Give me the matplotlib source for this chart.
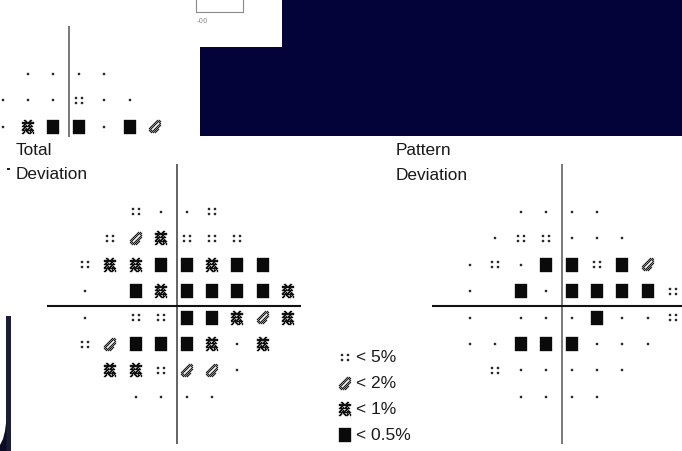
import matplotlib
matplotlib.use("Agg")
import matplotlib.pyplot as plt
from matplotlib.collections import PolyCollection
from matplotlib.patches import Polygon, Rectangle

# ---------------- data ----------------
row_deg = [21, 15, 9, 3, -3, -9, -15, -21]
col_deg = [-21, -15, -9, -3, 3, 9, 15, 21, 27]

# 0 = no point, 1 = normal, 2 = <5%, 3 = <2%, 4 = <1%, 5 = <0.5%
total_deviation = [
    [0, 0, 2, 1, 1, 2, 0, 0, 0],
    [0, 2, 3, 4, 2, 2, 2, 0, 0],
    [2, 4, 4, 5, 5, 4, 5, 5, 0],
    [1, 0, 5, 4, 5, 5, 5, 5, 4],
    [1, 0, 2, 2, 5, 5, 4, 3, 4],
    [2, 3, 5, 5, 5, 4, 1, 4, 0],
    [0, 4, 4, 2, 3, 3, 1, 0, 0],
    [0, 0, 1, 1, 1, 1, 0, 0, 0],
]
pattern_deviation = [
    [0, 0, 1, 1, 1, 1, 0, 0, 0],
    [0, 1, 2, 2, 1, 1, 1, 0, 0],
    [1, 2, 1, 5, 5, 2, 5, 3, 0],
    [1, 0, 5, 1, 5, 5, 5, 5, 2],
    [1, 0, 1, 1, 1, 5, 1, 1, 2],
    [1, 1, 5, 5, 5, 1, 1, 1, 0],
    [0, 2, 1, 1, 1, 1, 1, 0, 0],
    [0, 0, 1, 1, 1, 1, 0, 0, 0],
]
upper_rows = [21, 15, 9]
upper_field = [
    [0, 0, 1, 1, 1, 1, 0, 0, 0],
    [0, 1, 1, 1, 2, 1, 1, 0, 0],
    [1, 1, 4, 5, 5, 1, 5, 3, 0],
]
legend_codes = [2, 3, 4, 5]
legend_labels = ["< 5%", "< 2%", "< 1%", "< 0.5%"]

# ---------------- symbol bitmaps (pixel units) ----------------
BITMAPS = {
    1: ["XX", "XX"],
    2: ["XX....XX",
        "XX....XX",
        "........",
        "........",
        "........",
        "XX....XX",
        "XX....XX"],
    3: ["........X.X.",
        ".......X.X.X",
        "......X.X.X.",
        ".....X.X...X",
        "....X.X...X.",
        "...X.X...X.X",
        "..X.X...X.X.",
        ".X.X...X.X..",
        "X.X...X.X...",
        ".X...X.X.X..",
        "X.X.X.X.X...",
        ".X.X.X.X....",
        "..X.X.X....."],
    4: ["..XX....XX..",
        "...XX..XX...",
        "XXXXXXXXXXXX",
        "XXXXXXXXXXXX",
        "..XX...XX...",
        ".XX.X.XX.X..",
        "XXXXXXXXXXX.",
        "..XX...XX...",
        ".XX.X.XX.X..",
        "XX.XXXX.XXX.",
        "XXXXXXXXXXXX",
        "..X.XX..X.X.",
        ".XX..XX.XX.X",
        "XX....XXX..X"],
}
SQUARE_W, SQUARE_H = 12, 14
SYM_COLOR = {1: "#2a2a2a", 2: "#2a2a2a", 3: "#202020", 4: "#111111", 5: "#0a0a0a"}


def symbol_polys(code, cx, cy, sx, sy):
    """Polygons for one symbol centred at (cx, cy); sx, sy = pixels per data unit."""
    if code == 5:
        x0 = cx - SQUARE_W / 2 / sx
        x1 = cx + SQUARE_W / 2 / sx
        y0 = cy + SQUARE_H / 2 / sy
        y1 = cy - SQUARE_H / 2 / sy
        return [[(x0, y0), (x1, y0), (x1, y1), (x0, y1)]]
    polys = []
    bm = BITMAPS[code]
    h = len(bm)
    w = len(bm[0])
    for i, line in enumerate(bm):
        j = 0
        while j < w:
            if line[j] == "X":
                k = j
                while k < w and line[k] == "X":
                    k += 1
                xa = cx + (j - w / 2) / sx
                xb = cx + (k - w / 2) / sx
                ya = cy + (h / 2 - i) / sy
                yb = cy + (h / 2 - i - 1) / sy
                polys.append([(xa, ya), (xb, ya), (xb, yb), (xa, yb)])
                j = k
            else:
                j += 1
    return polys


def draw_symbol(ax, code, cx, cy, sx, sy):
    polys = symbol_polys(code, cx, cy, sx, sy)
    pc = PolyCollection(polys, facecolors=SYM_COLOR[code],
                        edgecolors=SYM_COLOR[code], linewidths=0.25)
    ax.add_collection(pc)


# ---------------- figure ----------------
W, H = 682, 452
fig = plt.figure(figsize=(W / 100, H / 100), dpi=100)
fig.patch.set_facecolor("white")

bg = fig.add_axes([0, 0, 1, 1])
bg.set_xlim(0, W)
bg.set_ylim(H, 0)
bg.axis("off")

SX = 25.4 / 6.0     # pixels per degree, horizontal
SY = 26.43 / 6.0    # pixels per degree, vertical
VLINE_X = 0.8
HLINE_Y = -0.25


def field_axes(cx, cy, xlim, ylim):
    left = cx + xlim[0] * SX
    right = cx + xlim[1] * SX
    top = cy - ylim[1] * SY
    bottom = cy - ylim[0] * SY
    ax = fig.add_axes([left / W, 1 - bottom / H, (right - left) / W, (bottom - top) / H])
    ax.set_xlim(*xlim)
    ax.set_ylim(*ylim)
    ax.axis("off")
    ax.patch.set_alpha(0)
    return ax


def draw_field(ax, rows, grid, hline=True, vcolor="#3a3a3a"):
    ax.axvline(VLINE_X, color=vcolor, lw=1.1)
    if hline:
        ax.axhline(HLINE_Y, color="#111111", lw=1.5)
    for r, yv in enumerate(rows):
        for c, xv in enumerate(col_deg):
            code = grid[r][c]
            if code:
                draw_symbol(ax, code, xv, yv, SX, SY)


# decorative screen pieces (background collage)
navy = "#03033a"
bg.add_patch(Polygon([(200, 48), (282, 48), (282, 0), (W, 0), (W, 137), (200, 137)],
                     closed=True, facecolor=navy, edgecolor="none"))
bg.plot([196, 196, 243, 243], [0, 13, 13, 0], color="#8a8a8a", lw=0.8)
bg.text(197, 21, "-00", fontsize=5, color="#888888", family="DejaVu Sans", va="center")
bg.add_patch(Rectangle((6.3, 317), 4.2, H - 317, facecolor="#1c1c36", edgecolor="none"))
bg.add_patch(Polygon([(6.5, 420), (5, 432), (3, 440), (0, 446), (0, H), (6.5, H)],
                     closed=True, facecolor="#0c0c24", edgecolor="none"))
bg.add_patch(Rectangle((6.5, 168.5), 3, 2.5, facecolor="#222222", edgecolor="none"))

# titles
tfont = dict(family="Liberation Sans", fontsize=12.4, color="#1a1a1a", va="baseline")
bg.text(16, 155, "Total", **tfont)
bg.text(16, 179, "Deviation", **tfont)
bg.text(396, 155, "Pattern", **tfont)
bg.text(396, 180, "Deviation", **tfont)

# fields
ax_total = field_axes(173.9, 305.4, (-30, 30), (-31.8, 31.8))
draw_field(ax_total, row_deg, total_deviation)

ax_pattern = field_axes(558.9, 305.4, (-30, 30), (-31.8, 31.8))
draw_field(ax_pattern, row_deg, pattern_deviation, vcolor="#555555")

ax_upper = field_axes(66.1, 167.5, (-30, 30), (6.8, 31.8))
draw_field(ax_upper, upper_rows, upper_field, hline=False, vcolor="#555555")

# legend
for k, (code, lab) in enumerate(zip(legend_codes, legend_labels)):
    ly = 358 + k * 26
    draw_symbol(bg, code, 345, ly, 1.0, -1.0)
    bg.text(356, ly, lab, family="Liberation Sans", fontsize=12.5, color="#1a1a1a",
            va="center", ha="left")

fig.savefig("out.png", dpi=100, facecolor="white")
